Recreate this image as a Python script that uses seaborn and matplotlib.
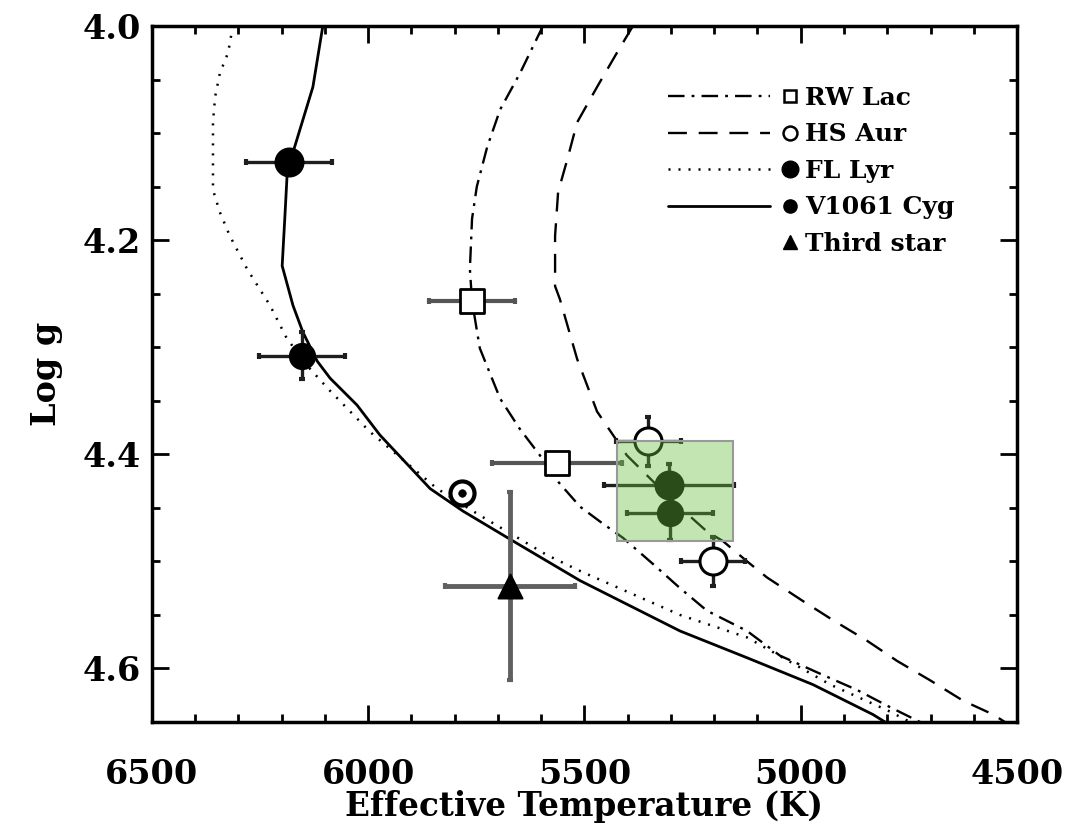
import matplotlib
matplotlib.use('Agg')
import seaborn as sns
import matplotlib.pyplot as plt
from matplotlib.lines import Line2D
from matplotlib.patches import Rectangle
from matplotlib.legend_handler import HandlerBase
from matplotlib.ticker import MultipleLocator

# model curves (Teff, log g)
v1061_t = [6105, 6128, 6174, 6186, 6193, 6199, 6174, 6151, 6118, 6088, 6026, 5973, 5857,
           5781, 5665, 5510, 5279, 5124, 4972, 4833, 4805]
v1061_g = [4.000, 4.057, 4.118, 4.127, 4.180, 4.224, 4.261, 4.286, 4.313, 4.329, 4.354, 4.382, 4.432,
           4.453, 4.481, 4.518, 4.565, 4.590, 4.615, 4.643, 4.650]

fllyr_t = [6313, 6324, 6343, 6354, 6359, 6359, 6343, 6320, 6280, 6227, 6188, 6135, 6090, 5996,
           5841, 5742, 5587, 5510, 5279, 5124, 4932, 4800, 4747]
fllyr_g = [4.000, 4.025, 4.044, 4.066, 4.090, 4.153, 4.174, 4.196, 4.227, 4.261, 4.292, 4.320, 4.340, 4.379,
           4.432, 4.457, 4.494, 4.509, 4.550, 4.571, 4.615, 4.639, 4.650]

rwlac_t = [5596, 5649, 5695, 5725, 5749, 5760, 5765, 5760, 5742, 5695, 5650, 5603, 5560, 5510, 5460,
           5411, 5340, 5279, 5217, 5124, 5048, 4949, 4870, 4794, 4724]
rwlac_g = [4.000, 4.044, 4.078, 4.113, 4.150, 4.180, 4.227, 4.257, 4.301, 4.348, 4.376, 4.401, 4.426, 4.449,
           4.464, 4.478, 4.503, 4.525, 4.546, 4.565, 4.588, 4.606, 4.620, 4.636, 4.650]

hsaur_t = [5388, 5425, 5471, 5517, 5540, 5561, 5568, 5568, 5557, 5517, 5471, 5434, 5402, 5372,
           5300, 5217, 5180, 5124, 5078, 4995, 4925, 4847, 4777, 4701, 4625, 4555, 4528]
hsaur_g = [4.000, 4.025, 4.057, 4.090, 4.125, 4.155, 4.196, 4.243, 4.255, 4.311, 4.360, 4.382, 4.401, 4.413,
           4.442, 4.472, 4.481, 4.500, 4.515, 4.537, 4.555, 4.574, 4.593, 4.611, 4.630, 4.643, 4.650]

# measured stars
v1061_pt_t = [6183, 5305]
v1061_pt_g = [4.127, 4.429]
v1061_pt_te = [100, 150]
v1061_pt_ge = [0.0, 0.02]

fllyr_pt_t = [6153, 5302]
fllyr_pt_g = [4.308, 4.455]
fllyr_pt_te = [100, 100]
fllyr_pt_ge = [0.022, 0.025]

rwlac_pt_t = [5760, 5564]
rwlac_pt_g = [4.257, 4.408]
rwlac_pt_te = [100, 150]

hsaur_pt_t = [5353, 5203]
hsaur_pt_g = [4.388, 4.500]
hsaur_pt_te = [75, 75]
hsaur_pt_ge = [0.023, 0.023]

third_t = [5672]
third_g = [4.523]
third_te = [150]
third_ge = [0.088]

sun_t = [5783]
sun_g = [4.436]

legend_labels = ['RW Lac', 'HS Aur', 'FL Lyr', 'V1061 Cyg', 'Third star']

sns.set_style('ticks')
plt.rcParams['font.family'] = ['DejaVu Serif']
plt.rcParams['font.weight'] = 'bold'
plt.rcParams['text.color'] = 'black'
plt.rcParams['axes.labelcolor'] = 'black'
plt.rcParams['xtick.color'] = 'black'
plt.rcParams['ytick.color'] = 'black'

fig = plt.figure(figsize=(10.81, 8.25), dpi=100)
ax = fig.add_axes([0.1406, 0.1248, 0.8002, 0.8437])

DASHDOT = (0, (7, 3, 1.2, 3))
DASHED = (0, (8, 5))
DOTTED = (0, (0.8, 3.2))

sns.lineplot(x=v1061_t, y=v1061_g, sort=False, estimator=None, color='k', lw=2.0, ax=ax)
sns.lineplot(x=fllyr_t, y=fllyr_g, sort=False, estimator=None, color='k', lw=1.8, linestyle=DOTTED, ax=ax)
sns.lineplot(x=rwlac_t, y=rwlac_g, sort=False, estimator=None, color='k', lw=1.7, linestyle=DASHDOT, ax=ax)
sns.lineplot(x=hsaur_t, y=hsaur_g, sort=False, estimator=None, color='k', lw=1.7, linestyle=DASHED, ax=ax)

eb = dict(fmt='none', ecolor='#1e1e1e', elinewidth=2.4, capsize=2.5, capthick=3, zorder=3)
ax.errorbar(v1061_pt_t, v1061_pt_g, xerr=v1061_pt_te, yerr=v1061_pt_ge, **eb)
ax.errorbar(fllyr_pt_t, fllyr_pt_g, xerr=fllyr_pt_te, yerr=fllyr_pt_ge, **eb)
ax.errorbar(rwlac_pt_t, rwlac_pt_g, xerr=rwlac_pt_te, fmt='none', ecolor='#555555',
            elinewidth=3, capsize=2.5, capthick=3, zorder=3)
ax.errorbar(hsaur_pt_t, hsaur_pt_g, xerr=hsaur_pt_te, yerr=hsaur_pt_ge, **eb)
ax.errorbar(third_t, third_g, xerr=third_te, yerr=third_ge, fmt='none', ecolor='#606060',
            elinewidth=3.5, capsize=2.5, capthick=3, zorder=3)

sns.scatterplot(x=v1061_pt_t, y=v1061_pt_g, marker='o', s=400, color='k', edgecolor='k', zorder=4, ax=ax)
sns.scatterplot(x=fllyr_pt_t, y=fllyr_pt_g, marker='o', s=330, color='k', edgecolor='k', zorder=4, ax=ax)
sns.scatterplot(x=rwlac_pt_t, y=rwlac_pt_g, marker='s', s=300, color='white', edgecolor='k',
                linewidth=2, zorder=4, ax=ax)
sns.scatterplot(x=hsaur_pt_t, y=hsaur_pt_g, marker='o', s=380, color='white', edgecolor='k',
                linewidth=2.2, zorder=4, ax=ax)
sns.scatterplot(x=third_t, y=third_g, marker='^', s=300, color='k', edgecolor='k', zorder=4, ax=ax)
sns.scatterplot(x=sun_t, y=sun_g, marker='o', s=300, color='white', edgecolor='k', linewidth=3, zorder=4, ax=ax)
sns.scatterplot(x=sun_t, y=sun_g, marker='o', s=30, color='k', edgecolor='k', zorder=5, ax=ax)

# green highlight box
ax.add_patch(Rectangle((5425, 4.388), 5157 - 5425, 4.481 - 4.388,
                       facecolor=(103 / 255, 192 / 255, 64 / 255, 0.4),
                       edgecolor=(0.6, 0.6, 0.6), lw=1.5, zorder=6))


class LineThenMarker(HandlerBase):
    def create_artists(self, legend, orig_handle, xdescent, ydescent, width, height, fontsize, trans):
        y = height / 2 - ydescent
        x0 = -xdescent
        arts = []
        if orig_handle.get_linestyle() not in ('None', 'none', ' ', ''):
            ln = Line2D([x0, x0 + 0.80 * width], [y, y])
            ln.update_from(orig_handle)
            ln.set_marker('None')
            ln.set_transform(trans)
            arts.append(ln)
        mk = Line2D([x0 + 0.955 * width], [y])
        mk.update_from(orig_handle)
        mk.set_linestyle('None')
        mk.set_transform(trans)
        arts.append(mk)
        return arts


handles = [
    Line2D([], [], color='k', lw=1.7, linestyle=DASHDOT, marker='s', ms=9, mfc='white', mec='k', mew=1.8),
    Line2D([], [], color='k', lw=1.7, linestyle=DASHED, marker='o', ms=10, mfc='white', mec='k', mew=1.8),
    Line2D([], [], color='k', lw=1.8, linestyle=DOTTED, marker='o', ms=12, mfc='k', mec='k'),
    Line2D([], [], color='k', lw=2.0, linestyle='-', marker='o', ms=9.5, mfc='k', mec='k'),
    Line2D([], [], color='k', linestyle='None', marker='^', ms=9.5, mfc='k', mec='k'),
]
ax.legend(handles, legend_labels, handler_map={Line2D: LineThenMarker()},
          loc='upper left', bbox_to_anchor=(0.597, 0.914), frameon=False,
          prop={'family': 'DejaVu Serif', 'weight': 'bold', 'size': 18},
          handlelength=5.1, handletextpad=0.35, labelspacing=0.5, borderpad=0, borderaxespad=0)

ax.set_xlim(6500, 4500)
ax.set_ylim(4.65, 4.0)
ax.xaxis.set_major_locator(MultipleLocator(500))
ax.xaxis.set_minor_locator(MultipleLocator(100))
ax.yaxis.set_major_locator(MultipleLocator(0.2))
ax.yaxis.set_minor_locator(MultipleLocator(0.05))
ax.tick_params(which='both', direction='in', top=True, right=True, width=2, colors='k')
ax.tick_params(which='major', length=12, labelsize=24)
ax.tick_params(which='minor', length=6)
ax.tick_params(axis='x', which='major', pad=26)
ax.tick_params(axis='y', which='major', pad=8)
for sp in ax.spines.values():
    sp.set_linewidth(2.5)
    sp.set_color('k')

ax.set_xlabel('Effective Temperature (K)', fontsize=23.5, fontweight='bold', labelpad=-1)
ax.set_ylabel('Log g', fontsize=24, fontweight='bold', labelpad=14)

fig.savefig('out.png', dpi=100)
